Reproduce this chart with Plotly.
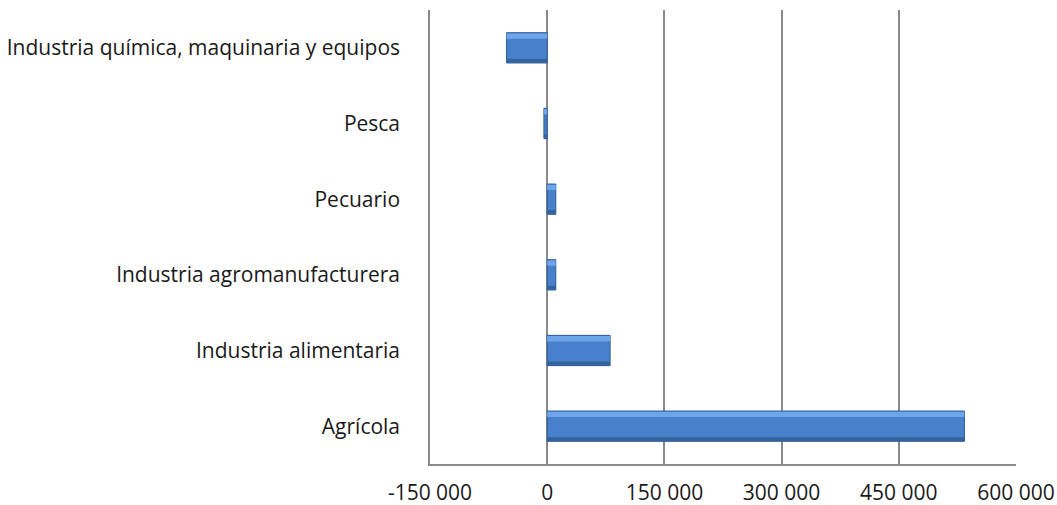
import plotly.graph_objects as go

categories = ["Agrícola", "Industria alimentaria", "Industria agromanufacturera",
              "Pecuario", "Pesca", "Industria química, maquinaria y equipos"]
values = [534000, 80500, 11000, 11000, -4200, -52000]
tick_vals = [-150000, 0, 150000, 300000, 450000, 600000]
tick_text = ["-150 000", "0", "150 000", "300 000", "450 000", "600 000"]

fig = go.Figure()
fig.add_trace(go.Bar(
    y=categories, x=values, orientation="h", width=0.4,
    marker=dict(color="#4880cb", line=dict(color="#2c5a96", width=1)),
    hoverinfo="skip", showlegend=False,
))
# bevel: light band near top edge
fig.add_trace(go.Bar(
    y=categories, x=values, orientation="h", width=0.07, offset=0.12,
    marker=dict(color="#6ea5ea", line=dict(width=0)),
    hoverinfo="skip", showlegend=False,
))
# bevel: darker band near bottom edge
fig.add_trace(go.Bar(
    y=categories, x=values, orientation="h", width=0.05, offset=-0.195,
    marker=dict(color="#33639f", line=dict(width=0)),
    hoverinfo="skip", showlegend=False,
))

fig.update_layout(
    width=1057, height=505,
    margin=dict(l=430, r=41, t=10, b=41),
    paper_bgcolor="white", plot_bgcolor="white",
    barmode="overlay",
    font=dict(family="Open Sans", size=21, color="#1a1a1a"),
    xaxis=dict(
        range=[-150000, 600000], tickvals=tick_vals, ticktext=tick_text,
        showgrid=True, gridcolor="#8a8a8a", gridwidth=1.5,
        zeroline=True, zerolinecolor="#8a8a8a", zerolinewidth=1.5,
        showline=True, linecolor="#8a8a8a", linewidth=1.5,
        ticks="outside", ticklen=9, tickcolor="rgba(0,0,0,0)",
        automargin=False, fixedrange=True,
    ),
    yaxis=dict(
        categoryorder="array", categoryarray=categories,
        showgrid=False, zeroline=False,
        showline=True, linecolor="#8a8a8a", linewidth=1.5,
        ticks="outside", ticklen=24, tickcolor="rgba(0,0,0,0)",
        automargin=False, fixedrange=True,
    ),
)
fig.write_html(
    "out.html",
    config={"displayModeBar": False},
    post_script="document.body.style.margin='0';document.body.style.overflow='hidden';",
)
